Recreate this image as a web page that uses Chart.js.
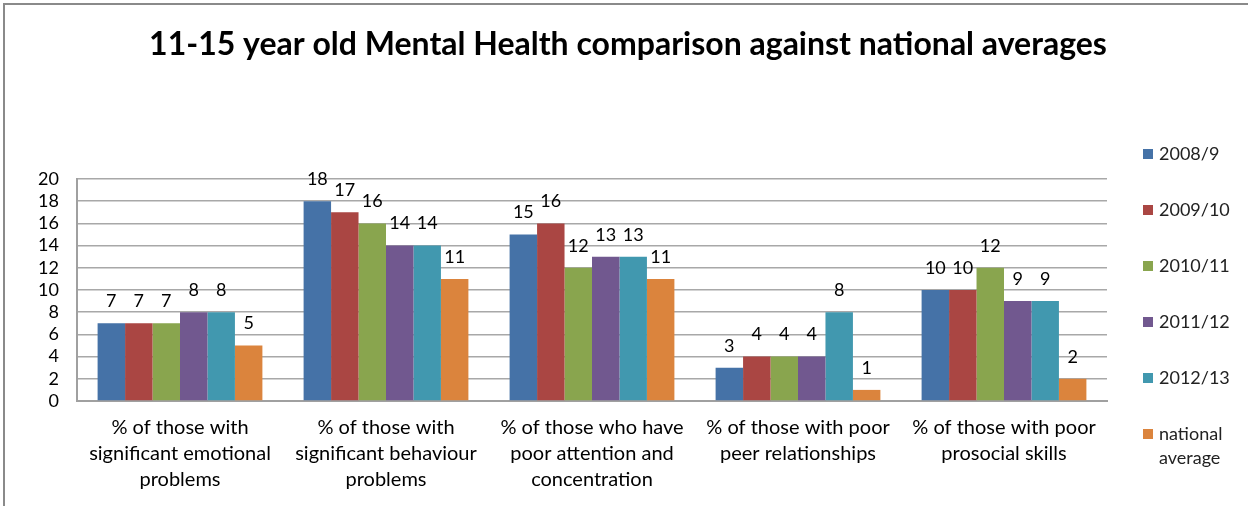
<!DOCTYPE html>
<html>
<head>
<meta charset="utf-8">
<script src="https://cdn.jsdelivr.net/npm/chart.js@4/dist/chart.umd.min.js"></script>
<style>
html, body { margin: 0; padding: 0; background: #fff; }
</style>
</head>
<body>
<canvas id="chart" width="1248" height="506"></canvas>
<script>
var chartTitle = '11-15 year old Mental Health comparison against national averages';

var categories = [
	['% of those with', 'significant emotional', 'problems'],
	['% of those with', 'significant behaviour', 'problems'],
	['% of those who have', 'poor attention and', 'concentration'],
	['% of those with poor', 'peer relationships'],
	['% of those with poor', 'prosocial skills']
];

var seriesNames = ['2008/9', '2009/10', '2010/11', '2011/12', '2012/13', 'national average'];
var seriesColors = ['#4572A7', '#AA4643', '#89A54E', '#71588F', '#4198AF', '#DB843D'];

var values2008 = [7, 18, 15, 3, 10];
var values2009 = [7, 17, 16, 4, 10];
var values2010 = [7, 16, 12, 4, 12];
var values2011 = [8, 14, 13, 4, 9];
var values2012 = [8, 14, 13, 8, 9];
var valuesNational = [5, 11, 11, 1, 2];

var yMin = 0, yMax = 20, yStep = 2;

var font = 'Lato';
var allValues = [values2008, values2009, values2010, values2011, values2012, valuesNational];

var datasets = [];
for (var i = 0; i < seriesNames.length; i++) {
	datasets.push({
		label: seriesNames[i],
		data: allValues[i],
		backgroundColor: seriesColors[i],
		borderWidth: 0
	});
}

// frame, title, value labels and the legend on the right
var decorations = {
	id: 'decorations',
	beforeDraw: function (chart) {
		var ctx = chart.ctx;
		ctx.save();
		ctx.fillStyle = '#fff';
		ctx.fillRect(0, 0, chart.width, chart.height);
		ctx.strokeStyle = '#8a8a8a';
		ctx.lineWidth = 2;
		ctx.beginPath();
		ctx.moveTo(4, chart.height);
		ctx.lineTo(4, 4);
		ctx.lineTo(chart.width, 4);
		ctx.stroke();
		ctx.restore();
	},
	afterDatasetsDraw: function (chart) {
		var ctx = chart.ctx;
		ctx.save();
		ctx.fillStyle = '#000';
		ctx.font = 'bold 32px ' + font;
		ctx.textAlign = 'center';
		ctx.textBaseline = 'middle';
		ctx.fillText(chartTitle, 628, 45);

		ctx.font = '18px ' + font;
		chart.data.datasets.forEach(function (ds, di) {
			var meta = chart.getDatasetMeta(di);
			meta.data.forEach(function (bar, idx) {
				ctx.fillText(ds.data[idx], bar.x, bar.y - 22);
			});
		});

		ctx.textAlign = 'left';
		var legendY = 154;
		for (var i = 0; i < seriesNames.length; i++) {
			var y = legendY + i * 56;
			ctx.fillStyle = seriesColors[i];
			ctx.fillRect(1143, y - 5, 10, 10);
			ctx.fillStyle = '#222';
			var words = seriesNames[i].split(' ');
			if (words.length > 1) {
				ctx.fillText(words[0], 1159, y);
				ctx.fillText(words.slice(1).join(' '), 1159, y + 24);
			} else {
				ctx.fillText(seriesNames[i], 1159, y);
			}
		}
		ctx.restore();
	}
};

new Chart(document.getElementById('chart'), {
	type: 'bar',
	data: { labels: categories, datasets: datasets },
	options: {
		responsive: false,
		animation: false,
		devicePixelRatio: 1,
		layout: { padding: { top: 179, right: 141, bottom: 0, left: 0 } },
		plugins: {
			legend: { display: false },
			title: { display: false },
			tooltip: { enabled: false }
		},
		datasets: { bar: { categoryPercentage: 0.8, barPercentage: 1 } },
		scales: {
			x: {
				afterFit: function (scale) { scale.height = 105; },
				grid: { display: false, drawTicks: false },
				border: { display: true, color: '#a0a0a0', width: 2 },
				ticks: {
					color: '#000',
					padding: 14,
					maxRotation: 0,
					autoSkip: false,
					font: { family: font, size: 20, lineHeight: 1.3 }
				}
			},
			y: {
				min: yMin,
				max: yMax,
				afterFit: function (scale) { scale.width = 77; },
				grid: { color: '#a8a8a8', lineWidth: 1.5, drawTicks: false },
				border: { display: true, color: '#a0a0a0', width: 2 },
				ticks: {
					stepSize: yStep,
					autoSkip: false,
					color: '#000',
					padding: 18,
					font: { family: font, size: 18 }
				}
			}
		}
	},
	plugins: [decorations]
});
</script>
</body>
</html>
